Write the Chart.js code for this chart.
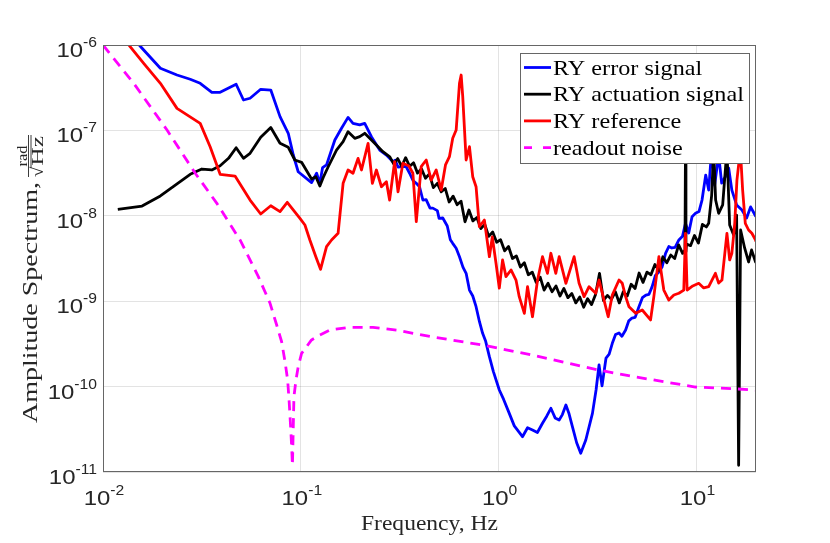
<!DOCTYPE html>
<html><head><meta charset="utf-8">
<script src="https://cdn.jsdelivr.net/npm/chart.js@4.4.0/dist/chart.umd.min.js"></script>
<style>html,body{margin:0;padding:0;background:#fff;}canvas{display:block;}</style>
</head><body>
<canvas id="c" width="830" height="543"></canvas>
<script>
// ---------- data ----------
const blueFreq = [
  0.0118,0.01576,0.0195,0.02366,0.0276,0.031,0.0355,0.0391,0.0471,0.0513,
  0.0554,0.0627,0.0705,0.0785,0.0864,0.0916,0.097,0.1133,0.1202,0.1248,
  0.1288,0.1349,0.1402,0.1486,0.1606,0.1733,0.1836,0.1985,0.2104,0.2274,
  0.2505,0.2708,0.2923,0.30,0.31,0.3281,0.34,0.3548,0.37,0.3835,
  0.3982,0.414,0.43,0.45,0.4648,0.49,0.5,0.522,0.55,0.57,
  0.586,0.61,0.634,0.66,0.685,0.712,0.74,0.769,0.8,0.83,
  0.86,0.898,0.94,1.008,1.06,1.132,1.2,1.32,1.4,1.483,
  1.57,1.666,1.75,1.837,1.93,2.023,2.1,2.188,2.27,2.36,
  2.48,2.6,2.758,2.98,3.108,3.218,3.332,3.49,3.62,3.755,
  3.9,4.06,4.2,4.385,4.55,4.72,4.9,5.12,5.33,5.55,
  5.75,5.97,6.2,6.46,6.7,6.98,7.25,7.51,7.8,8.15,
  8.5,8.8,9.14,9.5,9.89,10.3,10.67,11.14,11.53,11.94,
  12.36,12.95,13.41,14.0,14.55,15.1,15.96,16.98,17.93,18.78,
  19.9,20];
const blueAmp = [
  1.96e-6,9.15e-7,5.34e-7,4.45e-7,3.97e-7,3.56e-7,2.79e-7,2.79e-7,3.47e-7,2.27e-7,
  2.38e-7,3.03e-7,2.97e-7,1.45e-7,9.25e-8,5.15e-8,3.28e-8,2.45e-8,3.15e-8,2.4e-8,
  3.66e-8,3.94e-8,5.15e-8,7.72e-8,1.06e-7,1.42e-7,1.21e-7,1.16e-7,1.21e-7,8.44e-8,
  5.89e-8,5.15e-8,4.3e-8,4.47e-8,3.72e-8,3.76e-8,3.8e-8,3.15e-8,2.57e-8,2.4e-8,
  2.19e-8,1.53e-8,1.55e-8,1.23e-8,1.23e-8,1.15e-8,9.33e-9,9.42e-9,7.59e-9,5.25e-9,
  4.76e-9,4.17e-9,3.32e-9,2.51e-9,2.12e-9,1.35e-9,1.15e-9,8.62e-10,5.75e-10,4.21e-10,
  3.39e-10,2.24e-10,1.51e-10,9.12e-11,7.08e-11,4.86e-11,3.47e-11,2.59e-11,3.3e-11,3.1e-11,
  2.9e-11,3.72e-11,4.5e-11,5.57e-11,4.3e-11,4.06e-11,4.7e-11,6.09e-11,4.8e-11,3.39e-11,
  2.2e-11,1.66e-11,2.37e-11,4.86e-11,9.12e-11,1.79e-10,1.02e-10,2.16e-10,2.4e-10,3.21e-10,
  4.07e-10,4.24e-10,3.89e-10,4.6e-10,5.89e-10,6.35e-10,6.46e-10,8.62e-10,1.1e-9,1.18e-9,
  1.2e-9,1.48e-9,2.0e-9,2.2e-9,2.51e-9,3.64e-9,4.37e-9,4.2e-9,4.27e-9,5.21e-9,
  5.75e-9,8.17e-9,6.29e-9,9.77e-9,1.07e-8,1.12e-8,1.53e-8,3.0e-8,2.0e-8,6.0e-8,
  2.29e-8,5.15e-8,2.42e-8,2.87e-8,3.63e-8,2.0e-8,1.34e-8,1.17e-8,9.42e-9,1.27e-8,
  9.95e-9,1.05e-8];

const blackFreq = [
  0.01188,0.01576,0.0195,0.0232,0.0276,0.0316,0.0355,0.0391,0.0431,0.0471,
  0.0513,0.0554,0.0627,0.0705,0.0785,0.0864,0.0933,0.1009,0.1133,0.1191,
  0.1248,0.1307,0.1374,0.1515,0.1636,0.1733,0.1874,0.1985,0.2104,0.223,
  0.241,0.26,0.2818,0.2951,0.309,0.3236,0.3388,0.3548,0.3715,0.389,
  0.4074,0.4266,0.4467,0.4677,0.4898,0.5129,0.537,0.5623,0.5888,0.6166,
  0.6457,0.6761,0.7079,0.7413,0.7762,0.8128,0.8511,0.8913,0.9333,0.9772,
  1.023,1.072,1.122,1.175,1.23,1.288,1.349,1.413,1.479,1.549,
  1.622,1.698,1.778,1.862,1.95,2.042,2.138,2.239,2.344,2.455,
  2.57,2.692,2.818,2.951,3.09,3.236,3.388,3.548,3.715,3.89,
  4.074,4.266,4.467,4.677,4.898,5.129,5.37,5.623,5.888,6.166,
  6.457,6.761,7.079,7.413,7.762,8.128,8.511,8.75,8.8,8.85,
  8.913,9.333,9.772,10.23,10.72,11.22,11.53,11.94,12.22,12.5,
  12.95,13.57,14.26,14.72,15.42,15.96,16.34,16.72,17.52,18.35,
  18.99,19.9,20];
const blackAmp = [
  1.19e-8,1.3e-8,1.71e-8,2.29e-8,3.06e-8,3.53e-8,3.44e-8,3.86e-8,4.71e-8,6.27e-8,
  4.71e-8,5.39e-8,8.3e-8,1.08e-7,7.06e-8,6.34e-8,4.5e-8,4.23e-8,2.7e-8,2.87e-8,
  2.23e-8,2.92e-8,3.73e-8,5.89e-8,7.37e-8,9.65e-8,8.08e-8,8.44e-8,9.25e-8,8.08e-8,
  6.75e-8,5.63e-8,4.9e-8,4.03e-8,4.68e-8,3.8e-8,4.79e-8,3.8e-8,4.17e-8,3.16e-8,
  3.55e-8,2.75e-8,3.09e-8,2.14e-8,2.4e-8,1.91e-8,2.09e-8,1.45e-8,1.7e-8,1.35e-8,
  1.48e-8,8.51e-9,1.17e-8,8.71e-9,9.55e-9,7.08e-9,7.94e-9,5.75e-9,6.46e-9,4.9e-9,
  5.25e-9,3.89e-9,4.37e-9,3.16e-9,3.39e-9,2.51e-9,2.82e-9,2.04e-9,2.19e-9,1.66e-9,
  1.91e-9,1.35e-9,1.62e-9,1.29e-9,1.51e-9,1.15e-9,1.41e-9,1.1e-9,1.23e-9,9.55e-10,
  1.12e-9,8.51e-10,1.07e-9,9.12e-10,1.2e-9,2.12e-9,1.02e-9,1.17e-9,1.05e-9,1.29e-9,
  9.55e-10,1.29e-9,1.15e-9,1.58e-9,1.41e-9,2.14e-9,1.66e-9,2.19e-9,2.04e-9,2.69e-9,
  2.29e-9,3.31e-9,2.82e-9,3.47e-9,3.16e-9,4.57e-9,3.63e-9,3.98e-9,6.0e-8,3.8e-9,
  4.68e-9,4.47e-9,5.89e-9,4.79e-9,7.94e-9,7.41e-9,8.17e-9,1.75e-8,6.0e-8,1.53e-8,
  1.07e-8,1.34e-8,6.0e-8,7.8e-9,5.96e-9,1.02e-8,1.2e-11,6.82e-9,4.2e-9,2.88e-9,
  3.98e-9,2.88e-9,3.2e-9];

const redFreq = [
  0.0109,0.01365,0.01606,0.0195,0.02366,0.031,0.0348,0.0391,0.0465,0.0554,
  0.0627,0.0705,0.0785,0.0854,0.099,0.1049,0.1111,0.1191,0.1258,0.1349,
  0.143,0.1543,0.1636,0.1733,0.1836,0.1947,0.2026,0.2188,0.23,0.241,
  0.2556,0.2708,0.281,0.298,0.31,0.3281,0.352,0.3686,0.3835,0.406,
  0.4305,0.456,0.4836,0.5125,0.5387,0.564,0.586,0.61,0.634,0.6465,
  0.6585,0.685,0.712,0.7396,0.769,0.799,0.847,0.898,0.929,0.97,
  1.008,1.047,1.089,1.155,1.224,1.271,1.349,1.4,1.483,1.573,
  1.666,1.766,1.837,1.946,2.023,2.188,2.408,2.551,2.704,2.865,
  3.097,3.218,3.41,3.58,3.755,4.06,4.217,4.385,4.56,4.93,
  5.32,5.86,6.09,6.46,6.84,7.25,7.69,8.15,8.63,8.8,
  8.97,9.58,10.27,10.88,11.53,12.47,12.95,13.46,14.26,14.72,
  15.1,15.6,16.02,16.67,17.12,17.66,18.35,19.06,19.9,20];
const redAmp = [
  1.76e-6,9.73e-7,6.11e-7,3.56e-7,1.81e-7,1.21e-7,6.44e-8,3.06e-8,2.92e-8,1.53e-8,
  1.05e-8,1.31e-8,1.12e-8,1.44e-8,9.35e-9,7.8e-9,5.21e-9,3.32e-9,2.36e-9,4.35e-9,
  5.21e-9,6.24e-9,2.4e-8,3.44e-8,3.15e-8,4.71e-8,3.44e-8,7.06e-8,2.4e-8,3.44e-8,
  2.19e-8,2.51e-8,1.53e-8,4.3e-8,1.91e-8,4.12e-8,3.83e-8,3.15e-8,8.53e-9,3.76e-8,
  4.5e-8,2.62e-8,3.44e-8,2.0e-8,3.94e-8,4.92e-8,8.08e-8,1.01e-7,3.56e-7,4.45e-7,
  2.48e-7,4.5e-8,6.44e-8,2.87e-8,2.19e-8,7.45e-9,8.93e-9,3.32e-9,5.65e-9,2.78e-9,
  1.42e-9,3.04e-9,1.94e-9,2.32e-9,1.77e-9,1.13e-9,7.21e-10,1.48e-9,6.58e-10,1.77e-9,
  3.32e-9,2.12e-9,3.64e-9,2.12e-9,3.32e-9,1.62e-9,3.32e-9,1.62e-9,1.13e-9,1.48e-9,
  1.24e-9,1.77e-9,1.03e-9,6.58e-10,1.18e-9,1.77e-9,1.62e-9,1.13e-9,8.62e-10,7.21e-10,
  7.89e-10,6.03e-10,1.13e-9,3.32e-9,1.35e-9,1.03e-9,1.18e-9,1.24e-9,1.35e-9,6.24e-9,
  1.35e-9,1.51e-9,1.62e-9,1.43e-9,1.48e-9,2.12e-9,1.63e-9,1.77e-9,6.24e-9,3.04e-9,
  3.64e-9,7.8e-9,2.62e-8,6.0e-8,2.0e-8,8.17e-9,6.82e-9,6.24e-9,5.21e-9,5.0e-9];

const noiseFreq = [0.01,0.0143,0.02107,0.02926,0.03764,0.0493,0.061,0.0699,0.0755,0.08,0.0832,0.0858,0.0874,0.0888,0.0899,0.0907,0.0923,0.0945,0.097,0.1009,0.1133,0.1248,0.1402,0.1768,0.2317,0.31,0.4634,0.83,1.479,3.218,4.8,9.89,16.3,20];
const noiseAmp = [1.0e-6,3.56e-7,1.01e-7,3.15e-8,1.4e-8,5.21e-9,1.94e-9,9.45e-10,5.26e-10,3.35e-10,1.96e-10,1.19e-10,6.43e-11,3.39e-11,1.98e-11,1.2e-11,7.62e-11,1.19e-10,1.71e-10,2.45e-10,3.52e-10,4.02e-10,4.6e-10,4.95e-10,4.95e-10,4.55e-10,3.81e-10,3.07e-10,2.34e-10,1.56e-10,1.31e-10,9.89e-11,9.37e-11,9.1e-11];

const seriesNames = ['RY error signal', 'RY actuation signal', 'RY reference', 'readout noise'];
const xTicks = [0.01, 0.1, 1, 10];
const yTicks = [1e-11, 1e-10, 1e-9, 1e-8, 1e-7, 1e-6];
const xTitle = 'Frequency, Hz';
const yTitle = 'Amplitude Spectrum,';
const yUnitNum = 'rad';
const yUnitDen = 'Hz';

// ---------- styling ----------
const COLORS = ['#0000ff', '#000000', '#ff0000', '#ff00ff'];
const SERIF = '"Liberation Serif", "Times New Roman", serif';
const SANS = '"Liberation Sans", Arial, sans-serif';
const TXT = '#262626';
const SX = 1.1;

function pts(f, a) { return f.map((x, i) => ({ x: x, y: a[i] })); }

// draw text with a horizontal stretch; returns drawn width
function stretchText(ctx, str, x, y, font, sx, align) {
  ctx.save();
  ctx.font = font;
  const w = ctx.measureText(str).width * sx;
  const x0 = align === 'center' ? x - w / 2 : (align === 'right' ? x - w : x);
  ctx.translate(x0, y);
  ctx.scale(sx, 1);
  ctx.textAlign = 'left';
  ctx.textBaseline = 'alphabetic';
  ctx.fillText(str, 0, 0);
  ctx.restore();
  return w;
}
// draw text fitted to a target width
function fitText(ctx, str, x, y, font, targetW, align) {
  ctx.save(); ctx.font = font;
  const sx = targetW / ctx.measureText(str).width;
  ctx.restore();
  return stretchText(ctx, str, x, y, font, sx, align);
}

function drawPow(ctx, e, x, yBase, yExp, align) {
  const base = '10', ex = String(e);
  const fB = '21px ' + SANS, fE = '14px ' + SANS, sB = 1.14, sE = 1.12;
  ctx.font = fB; const wb = ctx.measureText(base).width * sB;
  ctx.font = fE; const we = ctx.measureText(ex).width * sE;
  const tot = wb + we;
  const x0 = align === 'right' ? x - tot : x - tot / 2;
  stretchText(ctx, base, x0, yBase, fB, sB, 'left');
  stretchText(ctx, ex, x0 + wb, yExp, fE, sE, 'left');
}

function drawYTitle(ctx, xBase, yStart) {
  const Wm = 241, gap = 5, Wf = 42;
  ctx.save();
  ctx.fillStyle = TXT; ctx.strokeStyle = TXT;
  ctx.translate(xBase, yStart);
  ctx.rotate(-Math.PI / 2);
  fitText(ctx, yTitle, 0, 0, '22px ' + SERIF, Wm, 'left');
  const fx = Wm + gap;
  ctx.lineWidth = 0.9;
  ctx.beginPath(); ctx.moveTo(fx, -8.5); ctx.lineTo(fx + Wf, -8.5); ctx.stroke();
  stretchText(ctx, yUnitNum, fx + Wf / 2, -10.5, '15px ' + SERIF, 1.1, 'center');
  const wSq = stretchText(ctx, '\u221A', fx, 5.5, '17px ' + SERIF, 1.1, 'left');
  fitText(ctx, yUnitDen, fx + wSq + 1, 5.5, '16px ' + SERIF, Wf - wSq - 2, 'left');
  ctx.beginPath(); ctx.moveTo(fx + wSq - 1.5, -6); ctx.lineTo(fx + Wf, -6); ctx.stroke();
  ctx.restore();
}

function drawLegend(ctx, a) {
  const bw = 229, bh = 110;
  const bx = Math.round(a.right - 7 - bw), by = Math.round(a.top + 8);
  ctx.save();
  ctx.fillStyle = '#ffffff';
  ctx.fillRect(bx, by, bw, bh);
  ctx.strokeStyle = '#666666'; ctx.lineWidth = 1;
  ctx.strokeRect(bx + 0.5, by + 0.5, bw, bh);
  seriesNames.forEach((name, i) => {
    const ly = by + 14.5 + i * 26.7;
    ctx.strokeStyle = COLORS[i]; ctx.lineWidth = 2.8; ctx.lineCap = 'butt';
    ctx.setLineDash(i === 3 ? [8, 11] : []);
    ctx.beginPath(); ctx.moveTo(bx + 4, ly); ctx.lineTo(bx + 31, ly); ctx.stroke();
    ctx.setLineDash([]);
    ctx.fillStyle = '#000000';
    stretchText(ctx, name, bx + 33, ly + 7, '22px ' + SERIF, SX, 'left');
  });
  ctx.restore();
}

const decor = {
  id: 'decor',
  afterDatasetsDraw(chart) {
    const ctx = chart.ctx, a = chart.chartArea, xs = chart.scales.x, ys = chart.scales.y;
    ctx.save();
    drawLegend(ctx, a);
    ctx.strokeStyle = '#666666'; ctx.lineWidth = 1;
    ctx.strokeRect(Math.round(a.left) + 0.5, Math.round(a.top) + 0.5, Math.round(a.right - a.left) - 1, Math.round(a.bottom - a.top) - 1);
    ctx.fillStyle = TXT;
    yTicks.forEach(v => {
      const py = ys.getPixelForValue(v);
      drawPow(ctx, Math.round(Math.log10(v)), a.left - 6, py + 12, py + 2, 'right');
    });
    xTicks.forEach(v => {
      const px = xs.getPixelForValue(v);
      drawPow(ctx, Math.round(Math.log10(v)), px + 1, a.bottom + 33, a.bottom + 23, 'center');
    });
    ctx.fillStyle = TXT;
    fitText(ctx, xTitle, (a.left + a.right) / 2, a.bottom + 58, '22px ' + SERIF, 137, 'center');
    drawYTitle(ctx, 37, 423);
    ctx.restore();
  }
};

const gridOpts = { color: 'rgba(38,38,38,0.13)', lineWidth: 1, drawTicks: false };

new Chart(document.getElementById('c').getContext('2d'), {
  type: 'line',
  data: {
    datasets: [
      { label: seriesNames[0], data: pts(blueFreq, blueAmp), borderColor: COLORS[0], borderWidth: 2.8, order: 4 },
      { label: seriesNames[1], data: pts(blackFreq, blackAmp), borderColor: COLORS[1], borderWidth: 2.8, order: 3 },
      { label: seriesNames[2], data: pts(redFreq, redAmp), borderColor: COLORS[2], borderWidth: 2.8, order: 2 },
      { label: seriesNames[3], data: pts(noiseFreq, noiseAmp), borderColor: COLORS[3], borderWidth: 2.8, borderDash: [10, 7], order: 1 }
    ]
  },
  options: {
    responsive: false,
    animation: false,
    layout: { padding: { left: 103, top: 45, right: 74, bottom: 71 } },
    plugins: { legend: { display: false }, tooltip: { enabled: false }, title: { display: false } },
    elements: { point: { radius: 0 }, line: { tension: 0, borderJoinStyle: 'round', fill: false } },
    scales: {
      x: {
        type: 'logarithmic', min: 0.01, max: 20,
        afterBuildTicks: s => { s.ticks = xTicks.map(v => ({ value: v })); },
        ticks: { display: false }, grid: gridOpts, border: { display: false }
      },
      y: {
        type: 'logarithmic', min: 1e-11, max: 1e-6,
        afterBuildTicks: s => { s.ticks = yTicks.map(v => ({ value: v })); },
        ticks: { display: false }, grid: gridOpts, border: { display: false }
      }
    }
  },
  plugins: [decor]
});
</script>
</body></html>
